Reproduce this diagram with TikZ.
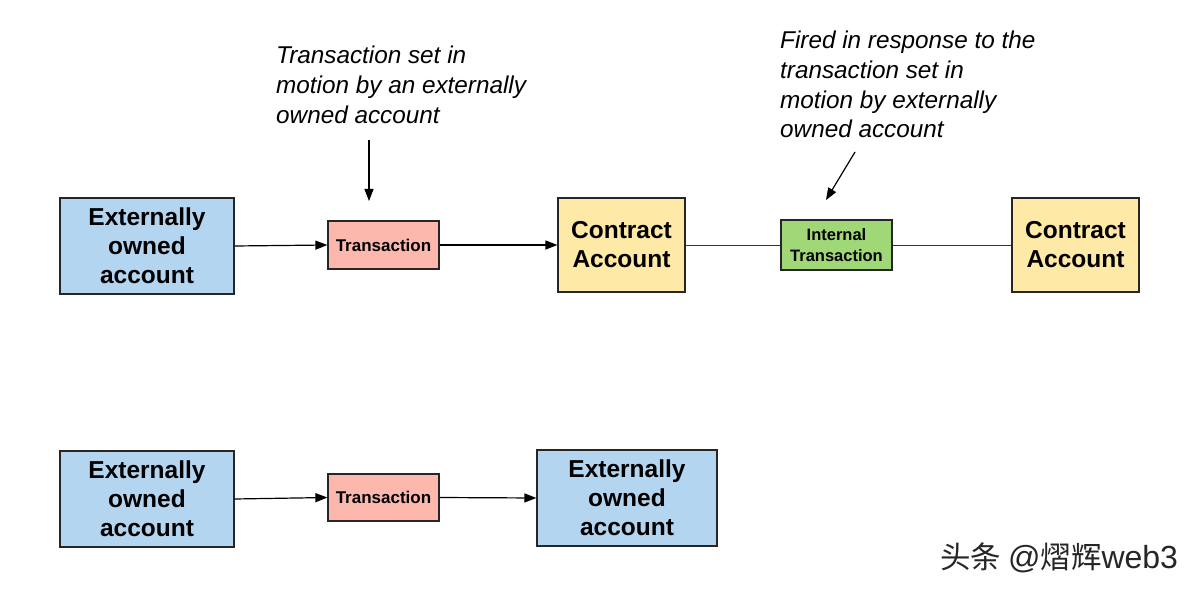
\documentclass[tikz,border=0pt]{standalone}
\usepackage{fontspec}
\setmainfont{Liberation Sans}
\newfontfamily\cjkfont{Noto Sans CJK SC}
\usetikzlibrary{arrows.meta}
\definecolor{eoablue}{HTML}{B3D5F0}
\definecolor{txpink}{HTML}{FDB8AE}
\definecolor{cayellow}{HTML}{FFE9A6}
\definecolor{intgreen}{HTML}{A0D878}
\tikzset{
  box/.style={draw=black!85, line width=1.2pt, align=center, inner sep=0pt, font=\fontsize{24.5}{29}\selectfont\bfseries},
  smallbox/.style={draw=black!85, line width=1.2pt, align=center, inner sep=0pt, font=\fontsize{17}{20}\selectfont\bfseries},
  note/.style={align=left, anchor=north west, inner sep=0pt, font=\fontsize{24.3}{29.7}\selectfont\itshape},
  arr/.style={-{Triangle[length=12pt,width=9pt]}, line width=1.2pt},
  thin/.style={line width=0.8pt, draw=black!80}
}
\begin{document}
\begin{tikzpicture}[x=1pt,y=-1pt]
\useasboundingbox (0,0) rectangle (1200,591);
\fill[white] (0,0) rectangle (1200,591);
% top row
\node[box, fill=eoablue, minimum width=174pt, minimum height=96pt] (eoa1) at (147,246) {Externally\\owned\\account};
\node[smallbox, fill=txpink, minimum width=111pt, minimum height=48pt] (tx1) at (383.5,245) {Transaction};
\node[box, fill=cayellow, minimum width=127pt, minimum height=94pt] (ca1) at (621.5,245) {Contract\\Account};
\node[smallbox, fill=intgreen, minimum width=111pt, minimum height=50pt, font=\fontsize{16.5}{21}\selectfont\bfseries] (itx) at (836.5,245) {Internal\\Transaction};
\node[box, fill=cayellow, minimum width=127pt, minimum height=94pt] (ca2) at (1075.5,245) {Contract\\Account};
\draw[arr] (eoa1.east) -- (tx1.west);
\draw[arr] (tx1.east) -- (ca1.west);
\draw[thin] (ca1.east) -- (itx.west);
\draw[thin] (itx.east) -- (ca2.west);
% annotations
\node[note] (n1) at (276,46) {Transaction set in\\motion by an externally\\owned account};
\node[note] (n2) at (780,31) {Fired in response to the\\transaction set in\\motion by externally\\owned account};
\coordinate (a1s) at (369,140);
\coordinate (a1e) at (369,201);
\coordinate (a2s) at (855,152);
\coordinate (a2e) at (826,200);
\draw[arr] (a1s) -- (a1e);
\draw[arr] (a2s) -- (a2e);
% bottom row
\node[box, fill=eoablue, minimum width=174pt, minimum height=96pt] (eoa2) at (147,499) {Externally\\owned\\account};
\node[smallbox, fill=txpink, minimum width=111pt, minimum height=47pt] (tx2) at (383.5,497.5) {Transaction};
\node[box, fill=eoablue, minimum width=180pt, minimum height=96pt] (eoa3) at (627,498) {Externally\\owned\\account};
\draw[arr] (eoa2.east) -- (tx2.west);
\draw[arr] (tx2.east) -- (eoa3.west);
% watermark
\node[anchor=west, inner sep=0pt, text=black!85] (wm) at (940,558) {{\cjkfont\fontsize{30.5}{32}\selectfont 头条 }{\fontsize{32}{32}\selectfont @}{\cjkfont\fontsize{30.5}{32}\selectfont 熠辉}{\fontsize{32}{32}\selectfont web3}};
\end{tikzpicture}
\end{document}
